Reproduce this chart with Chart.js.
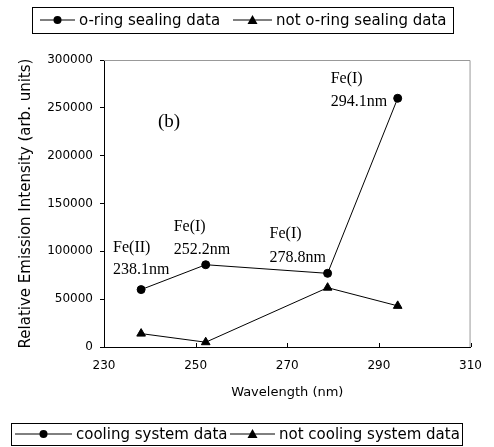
<!DOCTYPE html>
<html lang="en">
<head>
    <meta charset="UTF-8">
    <title>Fe emission lines</title>
    <script src="https://cdn.jsdelivr.net/npm/chart.js"></script>
    <style>
        html, body { margin: 0; padding: 0; background: #fff; }
        #wrap { width: 494px; height: 447px; position: relative; }
    </style>
</head>
<body>
    <div id="wrap">
        <canvas id="emissionChart" width="494" height="447"></canvas>
    </div>
    <script>
// wavelengths of the Fe lines (nm)
const wavelengths = [238.1, 252.2, 278.8, 294.1];
// relative emission intensity
const coolingData = [60000, 86000, 77000, 260000];
const notCoolingData = [14000, 5000, 62000, 43000];

const xTicks = [230, 250, 270, 290, 310];
const yTicks = [0, 50000, 100000, 150000, 200000, 250000, 300000];

const topLegendLabels = ['o-ring sealing data', 'not o-ring sealing data'];
const bottomLegendLabels = ['cooling system data', 'not cooling system data'];
const lineLabels = [['Fe(II)', '238.1nm'], ['Fe(I)', '252.2nm'], ['Fe(I)', '278.8nm'], ['Fe(I)', '294.1nm']];

// offsets of each line label from its point (px): left, first row, second row
const labelOffsets = [[-28, -42, -20], [-32, -38, -15], [-58, -40, -16], [-67, -19, 4]];

const SANS = '"DejaVu Sans", sans-serif';
const SERIF = '"Liberation Serif", "DejaVu Serif", serif';

function toPoints(xs, ys) {
    return xs.map((x, i) => ({ x: x, y: ys[i] }));
}

function drawMarker(ctx, style, x, y) {
    ctx.fillStyle = '#000';
    ctx.beginPath();
    if (style === 'circle') {
        ctx.arc(x, y, 4, 0, Math.PI * 2);
    } else {
        ctx.moveTo(x, y - 5);
        ctx.lineTo(x + 5, y + 4);
        ctx.lineTo(x - 5, y + 4);
        ctx.closePath();
    }
    ctx.fill();
}

// boxed legend like the original figure
// box: [left, top, right, height], items: [[lineStart, lineEnd], ...]
function drawLegend(ctx, labels, box, items) {
    ctx.save();
    ctx.font = '15px ' + SANS;
    ctx.textBaseline = 'middle';
    const midY = box[1] + box[3] / 2;
    const styles = ['circle', 'triangle'];
    labels.forEach((label, i) => {
        const [x0, x1] = items[i];
        ctx.strokeStyle = '#000';
        ctx.lineWidth = 1;
        ctx.beginPath();
        ctx.moveTo(x0, midY);
        ctx.lineTo(x1, midY);
        ctx.stroke();
        drawMarker(ctx, styles[i], (x0 + x1) / 2, midY);
        ctx.fillStyle = '#000';
        ctx.fillText(label, x1 + 4, midY + 1);
    });
    ctx.strokeStyle = '#000';
    ctx.strokeRect(box[0] + 0.5, box[1] + 0.5, box[2] - box[0], box[3]);
    ctx.restore();
}

const extras = {
    id: 'extras',
    beforeDatasetsDraw(chart) {
        const { ctx, chartArea } = chart;
        const xs = chart.scales.x;
        ctx.save();
        // grey frame on top and right
        ctx.strokeStyle = '#999';
        ctx.lineWidth = 1;
        ctx.beginPath();
        ctx.moveTo(chartArea.left, chartArea.top + 0.5);
        ctx.lineTo(chartArea.right - 0.5, chartArea.top + 0.5);
        ctx.lineTo(chartArea.right - 0.5, chartArea.bottom);
        ctx.stroke();
        // x ticks point inward
        ctx.strokeStyle = '#000';
        xTicks.forEach(v => {
            const px = Math.round(xs.getPixelForValue(v)) + 0.5;
            ctx.beginPath();
            ctx.moveTo(px, chartArea.bottom);
            ctx.lineTo(px, chartArea.bottom - 4);
            ctx.stroke();
        });
        ctx.restore();
    },
    afterDraw(chart) {
        const { ctx } = chart;
        const xs = chart.scales.x;
        const ys = chart.scales.y;
        ctx.save();
        ctx.fillStyle = '#000';
        ctx.textBaseline = 'middle';
        ctx.font = '16px ' + SERIF;
        lineLabels.forEach((rows, i) => {
            const px = xs.getPixelForValue(wavelengths[i]);
            const py = ys.getPixelForValue(coolingData[i]);
            const off = labelOffsets[i];
            ctx.fillText(rows[0], px + off[0], py + off[1]);
            ctx.fillText(rows[1], px + off[0], py + off[2]);
        });
        ctx.font = '19px ' + SERIF;
        ctx.fillText('(b)', 158, 122);
        ctx.restore();

        drawLegend(ctx, topLegendLabels, [32, 7, 453, 26], [[40, 75], [233, 272]]);
        drawLegend(ctx, bottomLegendLabels, [11, 423, 462, 22], [[15, 72], [230, 275]]);
    }
};

const chart = new Chart(document.getElementById('emissionChart'), {
    type: 'line',
    data: {
        datasets: [
            {
                label: bottomLegendLabels[0],
                data: toPoints(wavelengths, coolingData),
                borderColor: '#000',
                backgroundColor: '#000',
                borderWidth: 1,
                pointStyle: 'circle',
                pointRadius: 4,
                tension: 0
            },
            {
                label: bottomLegendLabels[1],
                data: toPoints(wavelengths, notCoolingData),
                borderColor: '#000',
                backgroundColor: '#000',
                borderWidth: 1,
                pointStyle: 'triangle',
                pointRadius: 5,
                tension: 0
            }
        ]
    },
    options: {
        responsive: false,
        animation: false,
        layout: { padding: { top: 60, right: 20, bottom: 47, left: 0 } },
        plugins: {
            legend: { display: false },
            tooltip: { enabled: false }
        },
        scales: {
            x: {
                type: 'linear',
                min: 230,
                max: 310,
                afterBuildTicks: s => { s.ticks = xTicks.map(v => ({ value: v })); },
                afterFit: s => { s.height = 53; },
                grid: { display: false, drawTicks: false },
                border: { color: '#000', width: 1 },
                ticks: { color: '#000', padding: 12, font: { family: SANS, size: 12 }, callback: v => String(v) },
                title: {
                    display: true,
                    text: 'Wavelength (nm)',
                    color: '#000',
                    font: { family: SANS, size: 13 },
                    padding: { top: 0, bottom: 0 }
                }
            },
            y: {
                min: 0,
                max: 300000,
                afterBuildTicks: s => { s.ticks = yTicks.map(v => ({ value: v })); },
                afterFit: s => { s.width = 104; },
                grid: { drawOnChartArea: false, tickLength: 4, color: '#000' },
                border: { color: '#000', width: 1 },
                ticks: { color: '#000', padding: 7, font: { family: SANS, size: 12 }, callback: v => String(v) },
                title: {
                    display: true,
                    text: 'Relative Emission Intensity (arb. units)',
                    color: '#000',
                    font: { family: SANS, size: 15 },
                    padding: { top: 17, bottom: 0 }
                }
            }
        }
    },
    plugins: [extras]
});
    </script>
</body>
</html>
